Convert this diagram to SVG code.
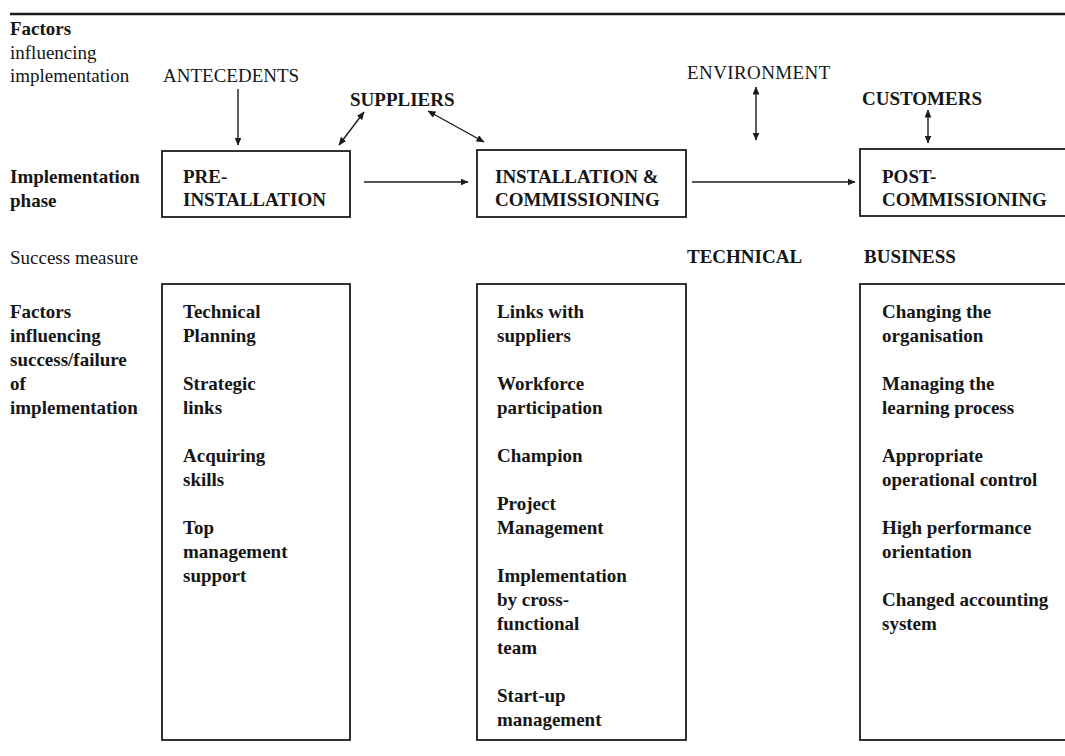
<svg xmlns="http://www.w3.org/2000/svg" width="1065" height="756" viewBox="0 0 1065 756">
  <style>
    text { font-family: "Liberation Serif", "Times New Roman", serif; font-size: 19px; fill: #161616; }
    .b { font-weight: bold; }
    .box { fill: none; stroke: #1c1c1c; stroke-width: 1.8; }
    .rule { stroke: #1c1c1c; stroke-width: 2.4; }
    .conn { stroke: #1c1c1c; stroke-width: 1.4; fill: none; }
  </style>
  <defs>
    <marker id="head" viewBox="0 0 8 7" refX="7.5" refY="3.5" markerWidth="8" markerHeight="7" markerUnits="userSpaceOnUse" orient="auto-start-reverse">
      <path d="M0,0 L8,3.5 L0,7 z" fill="#1c1c1c"/>
    </marker>
  </defs>

  <rect width="1065" height="756" fill="#ffffff"/>

  <!-- top rule -->
  <line class="rule" x1="10" y1="14" x2="1065" y2="14"/>

  <!-- row labels -->
  <g id="label-factors-implementation">
    <text x="10" y="35" class="b">Factors</text>
    <text x="10" y="59">influencing</text>
    <text x="10" y="82">implementation</text>
  </g>
  <g id="label-phase">
    <text x="10" y="183" class="b">Implementation</text>
    <text x="10" y="207" class="b">phase</text>
  </g>
  <g id="label-success-measure">
    <text x="10" y="264">Success measure</text>
  </g>
  <g id="label-factors-success">
    <text x="10" y="318" class="b">Factors</text>
    <text x="10" y="342" class="b">influencing</text>
    <text x="10" y="366" class="b">success/failure</text>
    <text x="10" y="390" class="b">of</text>
    <text x="10" y="414" class="b">implementation</text>
  </g>

  <!-- influencing factors -->
  <g id="antecedents"><text x="163" y="82">ANTECEDENTS</text></g>
  <g id="suppliers"><text x="350" y="106" class="b">SUPPLIERS</text></g>
  <g id="environment"><text x="687" y="79" letter-spacing="0.4">ENVIRONMENT</text></g>
  <g id="customers"><text x="862" y="105" class="b">CUSTOMERS</text></g>

  <!-- implementation phases -->
  <g id="pre-installation">
    <rect class="box" x="162" y="151" width="188" height="66"/>
    <text x="183" y="183" class="b">PRE-</text>
    <text x="183" y="206" class="b">INSTALLATION</text>
  </g>
  <g id="installation-commissioning">
    <rect class="box" x="477" y="150" width="209" height="67"/>
    <text x="495" y="183" class="b">INSTALLATION &amp;</text>
    <text x="495" y="206" class="b">COMMISSIONING</text>
  </g>
  <g id="post-commissioning">
    <rect class="box" x="860" y="149" width="215" height="67"/>
    <text x="882" y="183" class="b">POST-</text>
    <text x="882" y="206" class="b">COMMISSIONING</text>
  </g>

  <!-- success measures -->
  <g id="technical"><text x="687" y="263" class="b">TECHNICAL</text></g>
  <g id="business"><text x="864" y="263" class="b">BUSINESS</text></g>

  <!-- success/failure factors per phase -->
  <g id="pre-installation-factors">
    <rect class="box" x="162" y="284" width="188" height="456"/>
    <text x="183" y="318" class="b">Technical</text>
    <text x="183" y="342" class="b">Planning</text>
    <text x="183" y="390" class="b">Strategic</text>
    <text x="183" y="414" class="b">links</text>
    <text x="183" y="462" class="b">Acquiring</text>
    <text x="183" y="486" class="b">skills</text>
    <text x="183" y="534" class="b">Top</text>
    <text x="183" y="558" class="b">management</text>
    <text x="183" y="582" class="b">support</text>
  </g>
  <g id="installation-factors">
    <rect class="box" x="477" y="284" width="209" height="456"/>
    <text x="497" y="318" class="b">Links with</text>
    <text x="497" y="342" class="b">suppliers</text>
    <text x="497" y="390" class="b">Workforce</text>
    <text x="497" y="414" class="b">participation</text>
    <text x="497" y="462" class="b">Champion</text>
    <text x="497" y="510" class="b">Project</text>
    <text x="497" y="534" class="b">Management</text>
    <text x="497" y="582" class="b">Implementation</text>
    <text x="497" y="606" class="b">by cross-</text>
    <text x="497" y="630" class="b">functional</text>
    <text x="497" y="654" class="b">team</text>
    <text x="497" y="702" class="b">Start-up</text>
    <text x="497" y="726" class="b">management</text>
  </g>
  <g id="post-commissioning-factors">
    <rect class="box" x="860" y="284" width="215" height="456"/>
    <text x="882" y="318" class="b">Changing the</text>
    <text x="882" y="342" class="b">organisation</text>
    <text x="882" y="390" class="b">Managing the</text>
    <text x="882" y="414" class="b">learning process</text>
    <text x="882" y="462" class="b">Appropriate</text>
    <text x="882" y="486" class="b">operational control</text>
    <text x="882" y="534" class="b">High performance</text>
    <text x="882" y="558" class="b">orientation</text>
    <text x="882" y="606" class="b">Changed accounting</text>
    <text x="882" y="630" class="b">system</text>
  </g>

  <!-- connectors -->
  <g id="connectors">
    <line class="conn" x1="238" y1="89" x2="238" y2="145" marker-end="url(#head)"/>
    <line class="conn" x1="339" y1="145" x2="364" y2="112" marker-start="url(#head)" marker-end="url(#head)"/>
    <line class="conn" x1="428" y1="111" x2="484" y2="142" marker-start="url(#head)" marker-end="url(#head)"/>
    <line class="conn" x1="364" y1="182" x2="468" y2="182" marker-end="url(#head)"/>
    <line class="conn" x1="692" y1="182" x2="855" y2="182" marker-end="url(#head)"/>
    <line class="conn" x1="756" y1="87" x2="756" y2="140" marker-start="url(#head)" marker-end="url(#head)"/>
    <line class="conn" x1="928" y1="110" x2="928" y2="143" marker-start="url(#head)" marker-end="url(#head)"/>
  </g>
</svg>
